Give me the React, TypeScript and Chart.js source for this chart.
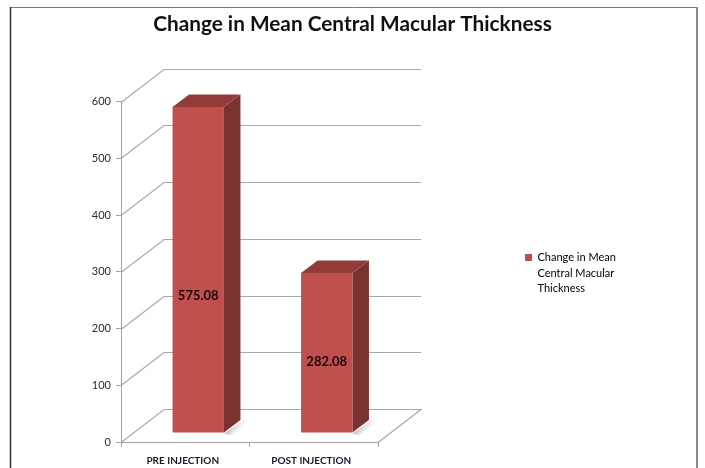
import React, { useEffect, useRef } from "react";
import { Chart, registerables } from "chart.js";

Chart.register(...registerables);

const categories = ["PRE INJECTION", "POST INJECTION"];
const seriesName = ["Change in Mean", "Central Macular", "Thickness"];
const values = [575.08, 282.08];
const valueLabels = ["575.08", "282.08"];
const titleText = "Change in Mean Central Macular Thickness";

const DEPTH_X = 43;
const DEPTH_Y = -33;
const BAR_SHIFT_X = 13;
const BAR_SHIFT_Y = -9;
const BAR_DEPTH_X = 16.5;
const BAR_DEPTH_Y = -12.5;

function poly(ctx: CanvasRenderingContext2D, pts: number[][], fill: string | CanvasGradient) {
  ctx.beginPath();
  pts.forEach((p, i) => (i ? ctx.lineTo(p[0], p[1]) : ctx.moveTo(p[0], p[1])));
  ctx.closePath();
  ctx.fillStyle = fill;
  ctx.fill();
}

const chart3d = {
  id: "chart3d",
  afterLayout(chart: any) {
    const t = chart.titleBlock;
    t.left = 0;
    t.right = 705;
    const l = chart.legend;
    const w = l.width;
    const h = l.height;
    l.left = 525;
    l.right = 525 + w;
    l.top = 252;
    l.bottom = 252 + h;
  },
  beforeDraw(chart: any) {
    const { ctx, scales, chartArea } = chart;
    ctx.save();
    // picture frame
    ctx.strokeStyle = "#777777";
    ctx.lineWidth = 1;
    ctx.beginPath();
    ctx.moveTo(10, 7.5);
    ctx.lineTo(697, 7.5);
    ctx.stroke();
    ctx.strokeStyle = "#333333";
    ctx.lineWidth = 1.5;
    ctx.beginPath();
    ctx.moveTo(10.5, 468);
    ctx.lineTo(10.5, 7);
    ctx.stroke();
    ctx.strokeStyle = "#8a8a8a";
    ctx.lineWidth = 2;
    ctx.beginPath();
    ctx.moveTo(697, 468);
    ctx.lineTo(697, 7);
    ctx.stroke();
    // 3-D gridlines
    const y = scales.y;
    const L = chartArea.left;
    const R = chartArea.right;
    ctx.strokeStyle = "#a8a8a8";
    ctx.lineWidth = 1.2;
    ctx.beginPath();
    y.ticks.forEach((tk: any) => {
      const py = Math.round(y.getPixelForValue(tk.value)) + 0.5;
      ctx.moveTo(L, py);
      ctx.lineTo(L + DEPTH_X, py + DEPTH_Y);
      ctx.lineTo(R + DEPTH_X, py + DEPTH_Y);
      if (tk.value === 0) {
        ctx.lineTo(R, py);
      }
    });
    ctx.stroke();
    ctx.restore();
  },
  beforeDatasetsDraw(chart: any) {
    const { ctx } = chart;
    const meta = chart.getDatasetMeta(0);
    ctx.save();
    meta.data.forEach((bar: any) => {
      const right = bar.x + bar.width / 2 + BAR_SHIFT_X;
      const left = bar.x - bar.width / 2 + BAR_SHIFT_X;
      const top = bar.y + BAR_SHIFT_Y;
      const base = bar.base + BAR_SHIFT_Y;
      // floor shadow
      const sh = ctx.createLinearGradient(right, base, right + 10, base + 8);
      sh.addColorStop(0, "rgba(130,130,130,0.6)");
      sh.addColorStop(1, "rgba(200,200,200,0)");
      poly(ctx, [[right, base + 1], [right + BAR_DEPTH_X + 3, base + BAR_DEPTH_Y], [right + BAR_DEPTH_X + 8, base + BAR_DEPTH_Y + 3], [right + 6, base + 3]], sh);
      // side face
      poly(ctx, [[right, top], [right + BAR_DEPTH_X, top + BAR_DEPTH_Y], [right + BAR_DEPTH_X, base + BAR_DEPTH_Y], [right, base]], "#7b3331");
      // top face
      poly(ctx, [[left, top], [left + BAR_DEPTH_X, top + BAR_DEPTH_Y], [right + BAR_DEPTH_X, top + BAR_DEPTH_Y], [right, top]], "#923c39");
    });
    ctx.restore();
    ctx.save();
    ctx.translate(BAR_SHIFT_X, BAR_SHIFT_Y);
  },
  afterDatasetsDraw(chart: any) {
    const { ctx } = chart;
    ctx.restore();
    const meta = chart.getDatasetMeta(0);
    ctx.save();
    ctx.font = "bold 13px Lato";
    ctx.fillStyle = "#1a0a0a";
    ctx.textAlign = "center";
    ctx.textBaseline = "middle";
    meta.data.forEach((bar: any, i: number) => {
      const h = bar.base - bar.y;
      const yPos = bar.base + BAR_SHIFT_Y - (h * 0.3976 + 7.4);
      ctx.fillText(valueLabels[i], bar.x + BAR_SHIFT_X, yPos);
    });
    ctx.restore();
  },
};

export default function App() {
  const ref = useRef<HTMLCanvasElement>(null);
  useEffect(() => {
    const chart = new Chart(ref.current as HTMLCanvasElement, {
      type: "bar",
      data: {
        labels: categories,
        datasets: [
          {
            label: seriesName.join(" "),
            data: values,
            backgroundColor: "#c0504d",
            borderWidth: 0,
            barPercentage: 0.4,
            categoryPercentage: 1,
          },
        ],
      },
      options: {
        responsive: false,
        animation: false,
        layout: { padding: { left: 0, right: 327, top: 0, bottom: 0 } },
        scales: {
          x: {
            afterFit: (s: any) => {
              s.height = 26;
            },
            grid: { drawOnChartArea: false, color: "#a3a3a3", tickLength: 5 },
            border: { color: "#a3a3a3" },
            ticks: {
              color: "#1a1a2a",
              font: { family: "Lato", size: 10, weight: "bold" },
              padding: 8,
              labelOffset: -2.5,
              maxRotation: 0,
            },
          },
          y: {
            min: 0,
            max: 600,
            afterFit: (s: any) => {
              s.width = 121;
            },
            grid: { drawOnChartArea: false, color: "#a3a3a3", tickLength: 5 },
            border: { color: "#a3a3a3" },
            ticks: {
              stepSize: 100,
              color: "#2a2a2a",
              font: { family: "Lato", size: 11 },
              padding: 5,
            },
          },
        },
        plugins: {
          title: {
            display: true,
            text: titleText,
            color: "#111111",
            font: { family: "Lato", size: 20.8, weight: "bold", lineHeight: 1.2 },
            padding: { top: 12, bottom: 64.8 },
          },
          legend: {
            display: true,
            position: "chartArea",
            align: "start",
            labels: {
              boxWidth: 7,
              boxHeight: 7,
              padding: 0,
              color: "#2a2a3a",
              font: { family: "Lato", size: 11, lineHeight: "15.5px" },
              generateLabels: () => [
                {
                  text: seriesName,
                  fillStyle: "#c0504d",
                  strokeStyle: "#a04040",
                  lineWidth: 0,
                  datasetIndex: 0,
                },
              ],
            },
          },
          tooltip: { enabled: false },
        },
      },
      plugins: [chart3d],
    } as any);
    return () => chart.destroy();
  }, []);
  return (
    <canvas
      ref={ref}
      width={705}
      height={468}
      style={{ position: "absolute", left: 0, top: 0, width: 705, height: 468, background: "#ffffff" }}
    />
  );
}
